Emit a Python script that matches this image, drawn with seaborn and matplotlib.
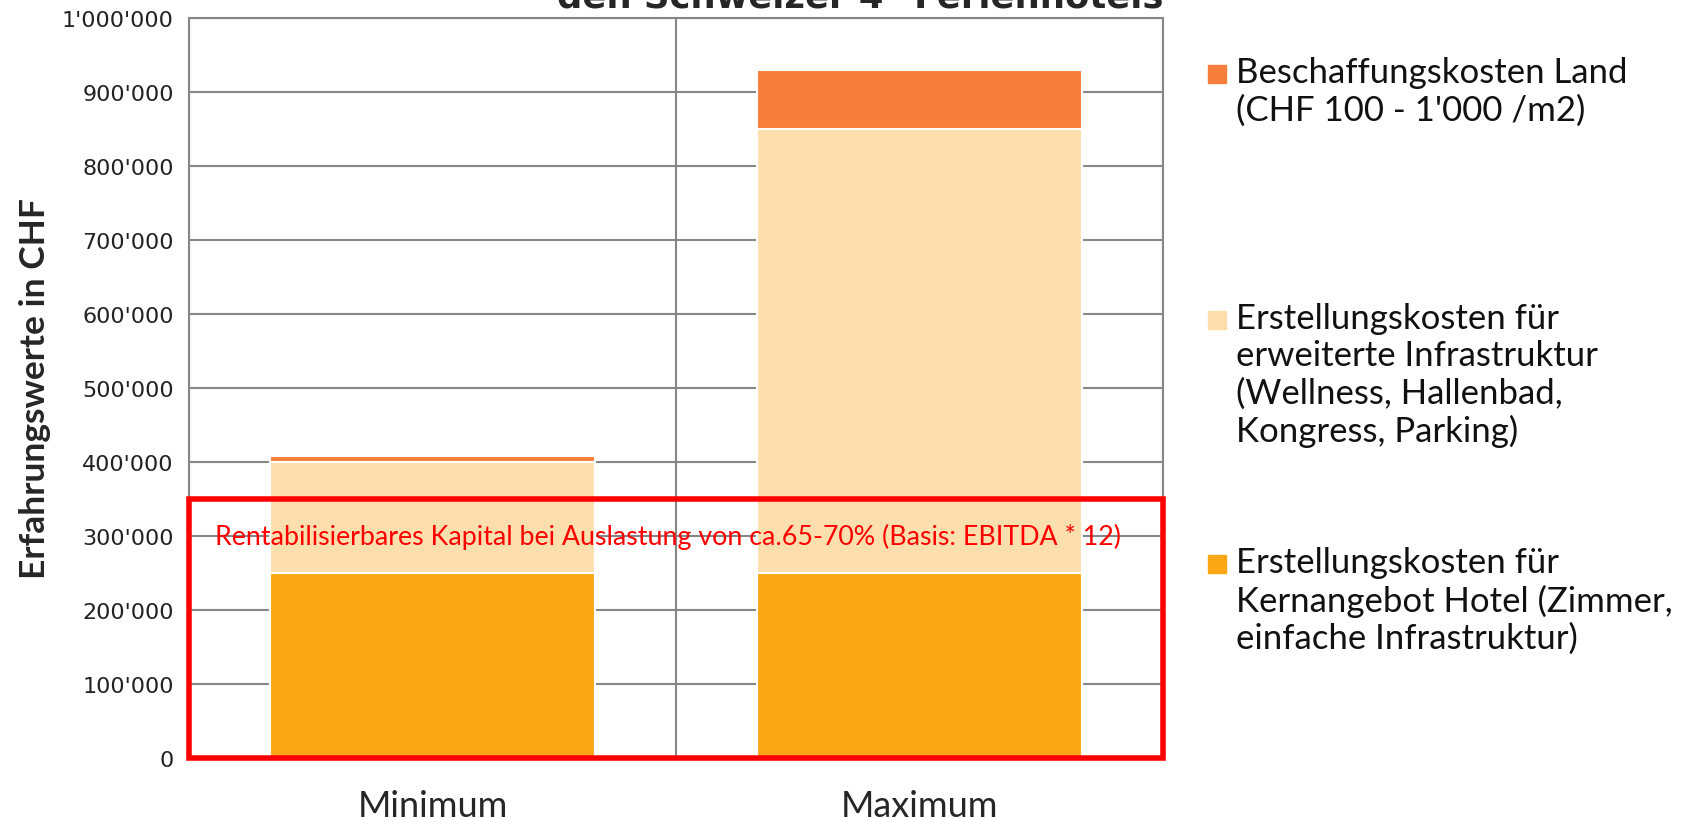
import pandas as pd
import matplotlib.pyplot as plt
import seaborn as sns
from matplotlib.patches import Rectangle

# data
categories = ['Minimum', 'Maximum']
kern = [250000, 250000]
erweitert = [150000, 600000]
land = [8000, 80000]
rentabel_limit = 350000

series_labels = [
    'Beschaffungskosten Land\n(CHF 100 - 1\'000 /m2)',
    'Erstellungskosten für\nerweiterte Infrastruktur\n(Wellness, Hallenbad,\nKongress, Parking)',
    'Erstellungskosten für\nKernangebot Hotel (Zimmer,\neinfache Infrastruktur)',
]
colors = {'land': '#F77F3B', 'erweitert': '#FDDFAE', 'kern': '#FBA614'}

df = pd.DataFrame({'cat': categories, 'kern': kern, 'erweitert': erweitert, 'land': land})
df['bottom_erw'] = df['kern']
df['bottom_land'] = df['kern'] + df['erweitert']

sns.set_style('white')
plt.rcParams['font.family'] = ['Lato', 'DejaVu Sans']

W, H = 1688, 820
fig = plt.figure(figsize=(W / 100, H / 100), dpi=100)
ax = fig.add_axes([189 / W, 1 - 759 / H, (1163 - 189) / W, (759 - 19) / H])

bar_kw = dict(width=0.667, edgecolor='white', linewidth=1.5, ax=ax, zorder=2)
sns.barplot(data=df, x='cat', y='kern', color=colors['kern'], saturation=1, **bar_kw)
sns.barplot(data=df, x='cat', y='erweitert', bottom=df['bottom_erw'],
            color=colors['erweitert'], saturation=1, **bar_kw)
sns.barplot(data=df, x='cat', y='land', bottom=df['bottom_land'],
            color=colors['land'], saturation=1, **bar_kw)

ax.set_xlim(-0.5, 1.5)
ax.set_ylim(0, 1000000)
ax.set_yticks(range(0, 1000001, 100000))
ax.set_yticklabels([f"{v:,}".replace(',', "'") for v in range(0, 1000001, 100000)],
                   fontsize=16, family='DejaVu Sans', color='#222222')
ax.set_xticks([-0.5, 0.5, 1.5], minor=True)
ax.tick_params(axis='x', which='major', length=0, labelsize=26, pad=22)
ax.tick_params(axis='x', which='minor', length=7, color='#868686', width=1.5)
ax.tick_params(axis='y', length=7, color='#868686', width=1.5, pad=4)
ax.set_axisbelow(True)
ax.grid(axis='y', color='#868686', linewidth=1.5)
ax.grid(axis='x', which='minor', color='#868686', linewidth=1.5)
for side in ['left', 'right', 'top', 'bottom']:
    ax.spines[side].set_color('#868686')
    ax.spines[side].set_linewidth(1.5)
ax.set_xlabel('')
ax.set_ylabel('Erfahrungswerte in CHF', fontsize=25.5, fontweight='bold', labelpad=8)

# red box marking the rentabilisierbare capital
ax.add_patch(Rectangle((-0.5, 0), 2.0, rentabel_limit, fill=False, edgecolor='#FF0000',
                       linewidth=4, zorder=5, clip_on=False))
ax.text(-0.447, 300000, 'Rentabilisierbares Kapital bei Auslastung von ca.65-70% (Basis: EBITDA * 12)',
        color='#FF0000', fontsize=19.3, va='center', ha='left', zorder=6)

# title (cut at top edge in the original)
fig.text(860 / W, 1 - 8 / H, 'den Schweizer 4* Ferienhotels', ha='center', va='baseline',
         fontsize=25.5, fontweight='bold', family=['DejaVu Sans'])

# legend, laid out manually like the original
legend_rows = [(75, 'land'), (321, 'erweitert'), (565, 'kern')]
for (yc, key), label in zip(legend_rows, series_labels):
    fig.add_artist(Rectangle((1208 / W, 1 - (yc + 9) / H), 18 / W, 18 / H,
                             transform=fig.transFigure, color=colors[key]))
    fig.text(1236 / W, 1 - (yc - 18) / H, label, ha='left', va='top',
             fontsize=25, linespacing=1.2, color='#111111')

fig.savefig('out.png', dpi=100)
